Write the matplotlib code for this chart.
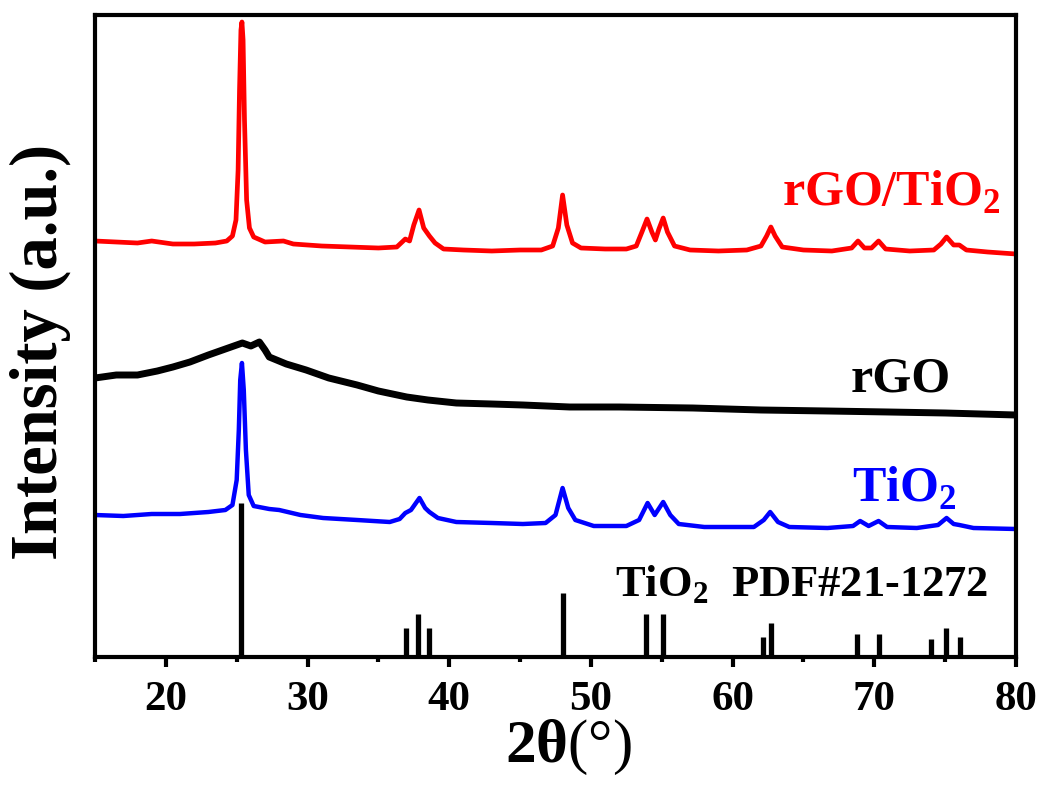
import matplotlib
matplotlib.use("Agg")
import matplotlib.pyplot as plt
from matplotlib.ticker import MultipleLocator

plt.rcParams['font.family'] = ['Liberation Serif', 'DejaVu Serif']
plt.rcParams['mathtext.fontset'] = 'custom'
plt.rcParams['mathtext.rm'] = 'Liberation Serif'
plt.rcParams['mathtext.bf'] = 'Liberation Serif:bold'

# ---- data (arbitrary intensity units, offsets included) ----
rgo_tio2_x = [15.0, 16.5, 18.0, 19.0, 20.5, 22.0, 23.5, 24.3, 24.7, 24.95, 25.1, 25.2, 25.3, 25.37,
              25.45, 25.55, 25.7, 25.9, 26.2, 27.0, 28.3, 29.0, 31.0, 33.0, 35.0, 36.3, 36.9, 37.2,
              37.5, 37.87, 38.2, 38.6, 39.0, 39.6, 41.0, 43.0, 45.0, 46.5, 47.3, 47.7, 48.0, 48.3,
              48.7, 49.3, 51.0, 52.5, 53.2, 53.6, 53.96, 54.3, 54.55, 54.8, 55.1, 55.4, 55.9, 57.0,
              59.0, 61.0, 62.0, 62.4, 62.7, 63.0, 63.5, 65.0, 67.0, 68.4, 68.85, 69.3, 69.8, 70.3,
              70.8, 72.5, 74.2, 74.7, 75.1, 75.6, 76.0, 76.5, 78.0, 80.0]
rgo_tio2_y = [416, 415, 414, 416, 413, 413, 414, 416, 421, 437, 487, 567, 627, 635,
              617, 537, 457, 429, 420, 415, 416, 413, 411, 410, 409, 410, 418, 416,
              432, 447, 429, 421, 414, 408, 407, 406, 407, 407, 411, 429, 462, 432,
              414, 409, 408, 408, 411, 425, 438, 425, 417, 428, 439, 425, 411, 407,
              406, 407, 411, 421, 430, 421, 410, 407, 406, 409, 416, 409, 409, 416,
              408, 406, 407, 413, 420, 412, 412, 407, 405, 403]

rgo_x = [15, 16.5, 18, 19.4, 20.5, 21.7, 23, 24.0, 25.0, 25.4, 26.0, 26.6, 27.0, 27.3, 28.5,
         29.9, 31.5, 33.5, 35.0, 37.0, 38.5, 40.5, 43.0, 45.2, 48.5, 52, 57.2, 62, 66.7, 71, 75, 80]
rgo_y = [279, 282, 282, 286, 290, 295, 302, 307, 312, 314, 311, 315, 307, 300, 293,
         287, 279, 272, 266, 260, 257, 254, 253, 252, 250, 250, 249, 247, 246, 245, 244, 242]

tio2_x = [15, 17, 19, 21, 23, 24.2, 24.7, 25.0, 25.15, 25.25, 25.37, 25.5, 25.65, 25.85, 26.2,
          27.3, 28.0, 29.5, 31.1, 33.5, 35.8, 36.5, 36.9, 37.3, 37.9, 38.3, 38.6, 39.2, 40.5,
          43, 45.2, 46.8, 47.5, 48.0, 48.4, 48.9, 50.2, 52.5, 53.4, 54.0, 54.5, 55.1, 55.6,
          56.2, 58, 61.5, 62.2, 62.65, 63.2, 64, 66.7, 68.5, 69.0, 69.6, 70.3, 70.9, 73, 74.5,
          75.1, 75.6, 76.0, 77, 80]
tio2_y = [142, 141, 143, 143, 145, 147, 152, 177, 227, 277, 294, 267, 207, 162, 151,
          148, 147, 142, 139, 137, 135, 138, 144, 147, 159, 149, 145, 139, 135,
          134, 133, 134, 142, 169, 149, 137, 131, 131, 137, 154, 142, 155, 142,
          133, 130, 130, 137, 145, 135, 130, 129, 131, 136, 131, 136, 130, 129, 132,
          139, 133, 132, 129, 128]

pdf_x = [25.28, 36.95, 37.80, 38.58, 48.05, 53.89, 55.06, 62.12, 62.69, 68.76, 70.31, 74.03, 75.03, 76.02]
pdf_h = [154, 29, 43, 29, 64, 43, 43, 20, 34, 23, 23, 18, 29, 20]

xticks = [20, 30, 40, 50, 60, 70, 80]

# ---- figure ----
fig = plt.figure(figsize=(10.41, 7.87), dpi=100)
ax = fig.add_axes([95/1041, 1-657/787, 921/1041, 642/787])

ax.plot(rgo_tio2_x, rgo_tio2_y, color='#ff0000', lw=3.4, solid_joinstyle='round')
ax.plot(rgo_x, rgo_y, color='black', lw=5.0, solid_joinstyle='round')
ax.plot(tio2_x, tio2_y, color='#0000ff', lw=3.2, solid_joinstyle='round')
ax.vlines(pdf_x, 0, pdf_h, color='black', lw=3.8)

ax.set_xlim(15, 80)
ax.set_ylim(0, 642)
ax.set_xticks(xticks)
ax.xaxis.set_minor_locator(MultipleLocator(5))
ax.set_yticks([])
for s in ax.spines.values():
    s.set_linewidth(3.0)
ax.tick_params(axis='x', which='major', direction='out', length=7, width=3, pad=10,
               labelsize=31)
ax.tick_params(axis='x', which='minor', direction='out', length=3.5, width=3)
for lab in ax.get_xticklabels():
    lab.set_fontweight('bold')

ax.text(63.5, 451, r"rGO/TiO$_\mathbf{2}$", color='#ff0000', fontsize=36, fontweight='bold',
        ha='left', va='baseline')
ax.text(68.3, 266, "rGO", color='black', fontsize=36, fontweight='bold',
        ha='left', va='baseline')
ax.text(68.4, 155, r"TiO$_\mathbf{2}$", color='#0000ff', fontsize=36, fontweight='bold',
        ha='left', va='baseline')
ax.text(51.7, 60, r"TiO$_\mathbf{2}$  PDF#21-1272", color='black', fontsize=32,
        fontweight='bold', ha='left', va='baseline')

fig.text(40/1041, 1-352/787, "Intensity (a.u.)", rotation=90, fontsize=48,
         fontweight='bold', ha='center', va='center')
fig.text(568/1041, 1-762/787, r"2θ$\mathrm{(°)}$", fontsize=44, fontweight='bold',
         ha='center', va='baseline')

fig.savefig("out.png", dpi=100)
